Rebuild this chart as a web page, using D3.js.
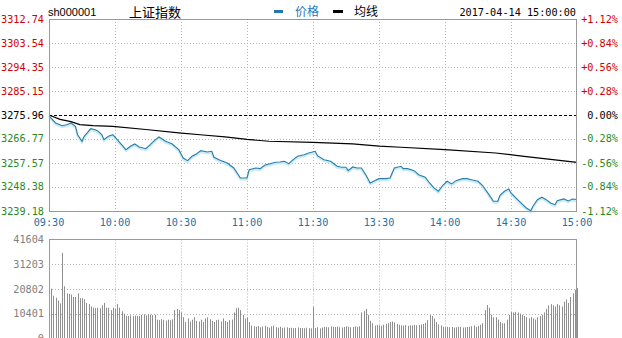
<!DOCTYPE html>
<html><head><meta charset="utf-8">
<script src="https://cdn.jsdelivr.net/npm/d3@7"></script>
<style>body{margin:0;background:#fff}svg{display:block}</style>
</head><body><svg id="c" width="622" height="338"></svg>
<script>
const timeLabels = ["09:30","10:00","10:30","11:00","11:30","13:30","14:00","14:30","15:00"];
const timeTicks = [0,30,60,90,120,150,180,210,240];
const priceTicks = [3312.74,3303.54,3294.35,3285.15,3275.96,3266.77,3257.57,3248.38,3239.18];
const pctLabels = ["+1.12%","+0.84%","+0.56%","+0.28%","0.00%","-0.28%","-0.56%","-0.84%","-1.12%"];
const volTicks = [41604,31203,20802,10401,0];
const prevClose = 3275.96;
const priceMin = [0,3,6,8,10,12,13,15,16,19,21,22,24,25,27,29,31,33,35,37,39,41,44,46,48,50,53,55,56,59,61,63,65,67,69,72,74,75,78,81,84,87,90,91,94,96,98,100,103,105,107,109,111,113,116,118,121,122,125,128,131,133,135,136,138,140,142,144,146,148,150,153,155,157,160,161,163,166,168,171,173,175,177,179,181,183,185,188,190,192,195,197,200,202,204,205,207,209,210,213,215,217,219,220,222,224,226,228,230,231,234,236,238,240];
const priceVal = [3275.6,3272.9,3271.86,3272.25,3272.9,3271.63,3268.42,3265.89,3267.8,3270.71,3270.33,3269.95,3268.42,3266.5,3267.8,3268.42,3266.5,3264.59,3262.67,3263.97,3264.85,3263.71,3263.06,3264.59,3266.27,3267.54,3265.89,3265.24,3264.85,3262.67,3259.49,3258.46,3260.15,3261.03,3262.29,3261.79,3262.06,3259.76,3258.54,3257.58,3255.66,3251.84,3251.84,3255.01,3255.67,3255.4,3256.7,3257.2,3257.85,3257.96,3258.23,3257.31,3258.84,3260.15,3260.76,3261.41,3262.06,3260.38,3258.84,3258.23,3256.32,3255.93,3255.93,3254.63,3256.05,3255.67,3255.67,3253.1,3249.92,3250.8,3251.57,3251.57,3251.84,3255.67,3256.32,3255.4,3255.4,3254.63,3253.1,3252.1,3249.92,3248.01,3246.74,3249.04,3250.57,3249.54,3250.8,3251.57,3251.57,3251.18,3250.57,3249.04,3245.44,3242.91,3242.91,3245.21,3246.74,3247.62,3246.09,3243.53,3241.88,3240.35,3239.31,3241.0,3243.53,3244.45,3243.53,3242.26,3241.61,3243.14,3243.8,3243.03,3243.8,3243.6];
const avgMin = [0,5,10,14,20,29,44,59,70,80,90,100,120,138,150,160,180,203,215,240];
const avgVal = [3275.96,3274.3,3273.4,3272.3,3271.9,3271.6,3270.4,3269.1,3268.3,3267.6,3266.6,3265.9,3265.5,3264.9,3264.0,3263.6,3262.7,3261.4,3260.2,3257.8];
const volume = [
21800,21000,18000,17200,16000,14800,36000,22000,19000,18800,
18500,17500,17500,19000,17000,17000,16500,15000,14500,13500,
13000,12800,13000,12800,14000,15000,13000,13000,12000,13000,
12500,14500,13000,11500,10500,9600,9500,9800,9500,9700,
9600,9500,10000,10200,9800,10300,10100,9900,10000,8000,
7800,8200,7900,7600,8000,7700,8100,12000,12500,12000,
11000,9000,7000,8500,7200,8000,9000,7500,7200,8000,
7000,8500,9000,8200,7500,7000,7800,8000,7200,8500,
7400,7000,7800,8000,11000,12800,13000,12000,10000,8500,
9000,7000,5500,5200,5000,5300,4800,5100,5400,5000,
4600,5200,5500,4800,4600,5000,4500,4700,4800,4500,
4600,4400,4500,4700,4400,4500,4400,4600,4400,4350,
13400,4500,4800,4300,4700,5000,4900,4800,5200,5000,
4900,5100,4800,4700,4900,5200,5000,4800,4900,5100,
5000,5200,11000,11600,12500,10000,7500,6500,5500,5800,
5600,5400,5900,6200,6500,7000,7200,6800,6200,5800,
5600,5500,5700,5400,5600,5500,5800,5600,5700,6000,
6200,6600,7800,9900,9500,8500,7000,6000,5600,5000,
4800,5000,4800,4900,4700,4800,5000,4900,4700,4800,
4900,5000,5200,5500,5000,5300,5800,6500,12000,14100,
13000,10000,9000,9000,8000,7000,6500,6500,8000,10000,
11300,11000,11300,11000,10500,10000,9500,9000,8500,9000,
8500,8000,9000,9500,10000,11000,12500,14000,14500,14000,
13500,14500,14000,13500,15500,16500,15000,17500,19000,20500,
21200];

const svg = d3.select("#c");
const L = 49, R = 577, T = 19, B = 211, VT = 239.5, VB = 338.7;
const x = d3.scaleLinear().domain([0,240]).range([L,R]);
const y = d3.scaleLinear().domain([3239.18,3312.74]).range([B,T]);
const yv = d3.scaleLinear().domain([0,41604]).range([VB,VT]);
const mono = "'DejaVu Sans Mono', monospace";
const gridColor = "#b4b4b4";

// price grid
const g = svg.append("g");
g.selectAll("line.h").data(priceTicks.filter(v => v !== prevClose && v !== 3312.74 && v !== 3239.18)).enter()
  .append("line").attr("x1",L).attr("x2",R).attr("y1",d=>Math.round(y(d))+0.5).attr("y2",d=>Math.round(y(d))+0.5)
  .attr("stroke",gridColor).attr("stroke-dasharray","1,2");
g.selectAll("line.v").data(timeTicks.slice(1,-1)).enter()
  .append("line").attr("x1",d=>Math.round(x(d))+0.5).attr("x2",d=>Math.round(x(d))+0.5).attr("y1",T).attr("y2",B)
  .attr("stroke",gridColor).attr("stroke-dasharray","1,2");
g.append("line").attr("x1",L).attr("x2",R).attr("y1",Math.round(y(prevClose))+0.5).attr("y2",Math.round(y(prevClose))+0.5)
  .attr("stroke","#000").attr("stroke-dasharray","3,2");

// volume grid
const gv = svg.append("g");
gv.selectAll("line.h").data(volTicks.slice(1,-1)).enter()
  .append("line").attr("x1",L).attr("x2",R).attr("y1",d=>Math.round(yv(d))+0.5).attr("y2",d=>Math.round(yv(d))+0.5)
  .attr("stroke",gridColor).attr("stroke-dasharray","1,2");
gv.selectAll("line.v").data(timeTicks.slice(1,-1)).enter()
  .append("line").attr("x1",d=>Math.round(x(d))+0.5).attr("x2",d=>Math.round(x(d))+0.5).attr("y1",VT).attr("y2",VB)
  .attr("stroke",gridColor).attr("stroke-dasharray","1,2");

// volume bars
gv.selectAll("rect.b").data(volume).enter().append("rect")
  .attr("x",(d,i)=>Math.round(x(i)))
  .attr("width",1)
  .attr("y",d=>yv(d))
  .attr("height",d=>VB-yv(d))
  .attr("fill","#8f8f8f");

// lines
const pts = priceMin.map((m,i)=>[m,priceVal[i]]);
const ln = d3.line().x(d=>x(d[0])).y(d=>y(d[1]));
svg.append("path").datum(pts).attr("d",ln).attr("fill","none").attr("stroke","#c6ecf8").attr("stroke-width",2).attr("transform","translate(0,1.5)");
svg.append("path").datum(pts).attr("d",ln).attr("fill","none").attr("stroke","#2a7ba6").attr("stroke-width",1.1);
const apts = avgMin.map((m,i)=>[m,avgVal[i]]);
svg.append("path").datum(apts).attr("d",ln).attr("fill","none").attr("stroke","#000").attr("stroke-width",1.2);

// frames
svg.append("rect").attr("x",L+0.5).attr("y",T+0.5).attr("width",R-L-1).attr("height",B-T).attr("fill","none").attr("stroke","#999");
svg.append("rect").attr("x",L+0.5).attr("y",VT).attr("width",R-L-1).attr("height",110).attr("fill","none").attr("stroke","#999");

// left price labels
svg.selectAll("text.pl").data(priceTicks).enter().append("text")
  .attr("x",44).attr("y",d=>y(d)+3.5).attr("text-anchor","end")
  .attr("font-family",mono).attr("font-size",10.2)
  .attr("fill",d=>d>prevClose?"#d40000":(d<prevClose?"#2a8a1e":"#000"))
  .text(d=>d.toFixed(2));
// right pct labels
svg.selectAll("text.pr").data(priceTicks).enter().append("text")
  .attr("x",618).attr("y",d=>y(d)+3.5).attr("text-anchor","end")
  .attr("font-family",mono).attr("font-size",10.2)
  .attr("fill",d=>d>prevClose?"#d40000":(d<prevClose?"#2a8a1e":"#000"))
  .text((d,i)=>pctLabels[i]);
// time labels
svg.selectAll("text.t").data(timeTicks).enter().append("text")
  .attr("x",d=>x(d)).attr("y",226).attr("text-anchor","middle")
  .attr("font-family",mono).attr("font-size",10.2).attr("fill","#1f6fa8")
  .text((d,i)=>timeLabels[i]);
// volume labels
svg.selectAll("text.v").data(volTicks).enter().append("text")
  .attr("x",44).attr("y",d=>yv(d)+3.5).attr("text-anchor","end")
  .attr("font-family",mono).attr("font-size",10.2).attr("fill","#808080")
  .text(d=>d);

// header
svg.append("text").attr("x",48).attr("y",16).attr("font-family","'Liberation Sans', Arial, sans-serif").attr("font-size",11).attr("fill","#000").text("sh000001");
svg.append("text").attr("x",129).attr("y",17).attr("font-family","'Noto Sans CJK SC', sans-serif").attr("font-size",13).attr("fill","#000").text("上证指数");
svg.append("rect").attr("x",274).attr("y",10).attr("width",9).attr("height",3).attr("fill","#1f78b4");
svg.append("text").attr("x",295).attr("y",16).attr("font-family","'Noto Sans CJK SC', sans-serif").attr("font-size",12).attr("fill","#1f78b4").text("价格");
svg.append("rect").attr("x",333).attr("y",10).attr("width",10).attr("height",3).attr("fill","#000");
svg.append("text").attr("x",354).attr("y",16).attr("font-family","'Noto Sans CJK SC', sans-serif").attr("font-size",12).attr("fill","#000").text("均线");
svg.append("text").attr("x",576).attr("y",15.5).attr("text-anchor","end").attr("font-family",mono).attr("font-size",10.2).attr("fill","#000").text("2017-04-14 15:00:00");
</script></body></html>
